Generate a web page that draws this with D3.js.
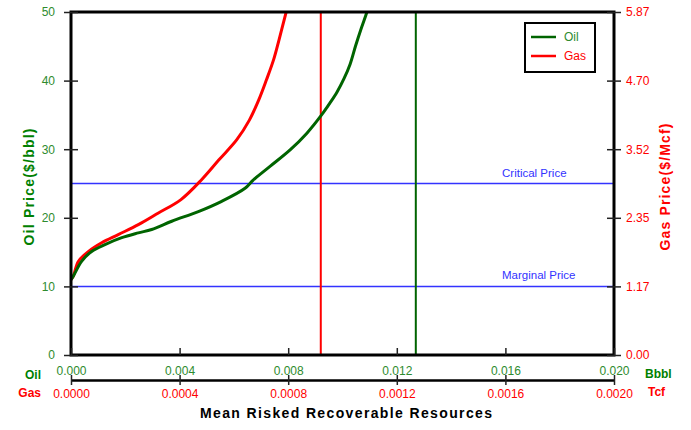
<!DOCTYPE html>
<html><head><meta charset="utf-8">
<script src="https://cdn.jsdelivr.net/npm/d3@7"></script>
<style>
body{margin:0;background:#fff;}
svg{display:block;font-family:"Liberation Sans",Arial,sans-serif;}
</style></head>
<body><svg id="c" width="691" height="430"></svg>
<script>
// ---- data ----
const oilX = [0,0.000085,0.00039,0.00076,0.00125,0.00187,0.00248,0.00297,0.00371,0.00469,0.00555,0.00641,0.00671,0.00733,0.00807,0.00868,0.00923,0.00954,0.00980,0.01005,0.01028,0.01048,0.01068,0.01090,0.01094];
const oilPrice = [11.0,11.5,13.65,15.1,16.1,17.1,17.8,18.3,19.5,20.9,22.4,24.3,25.5,27.5,29.9,32.3,35.0,36.75,38.35,40.25,42.4,45.05,47.5,50.0,50.6];
const gasX = [0,0.0000085,0.0000269,0.0000637,0.000113,0.000174,0.000248,0.000322,0.000405,0.000481,0.000545,0.000610,0.000657,0.000692,0.000720,0.000746,0.000766,0.000792,0.000796];
const gasPrice = [1.29,1.35,1.60,1.77,1.92,2.06,2.23,2.43,2.66,3.00,3.34,3.68,4.02,4.37,4.71,5.05,5.39,5.86,5.93];
const oilMeanRes = 0.0127;   // vertical oil line (Bbbl)
const gasMeanRes = 0.00092;  // vertical gas line (Tcf)
const criticalPrice = 25, marginalPrice = 10;
const oilPriceTicks = [0,10,20,30,40,50];
const gasPriceTicks = [0,1.174,2.348,3.522,4.696,5.87];
const oilResTicks = [0,0.004,0.008,0.012,0.016,0.020];
const gasResTicks = [0,0.0004,0.0008,0.0012,0.0016,0.0020];
const seriesNames = ["Oil","Gas"];

// ---- styles ----
const GREEN_LINE="#006400", GREEN_TXT="#2e8b2e", GREEN_B="#008000", RED="#ff0000", BLUE="#3333ff";
const L=71,R=614,T=12,B=355;

const svg=d3.select("#c");
const xOil=d3.scaleLinear().domain([0,0.02]).range([L,R]);
const xGas=d3.scaleLinear().domain([0,0.002]).range([L,R]);
const yOil=d3.scaleLinear().domain([0,50]).range([B,T]);
const yGas=d3.scaleLinear().domain([0,5.87]).range([B,T]);

svg.append("clipPath").attr("id","clip").append("rect").attr("x",L).attr("y",T).attr("width",R-L).attr("height",B-T);
const plot=svg.append("g").attr("clip-path","url(#clip)");

// horizontal price lines
[criticalPrice,marginalPrice].forEach(p=>{
  plot.append("line").attr("x1",L).attr("x2",R).attr("y1",yOil(p)).attr("y2",yOil(p)).attr("stroke",BLUE).attr("stroke-width",1.5);
});
// vertical lines
plot.append("line").attr("x1",xGas(gasMeanRes)).attr("x2",xGas(gasMeanRes)).attr("y1",T).attr("y2",B).attr("stroke",RED).attr("stroke-width",2);
plot.append("line").attr("x1",xOil(oilMeanRes)).attr("x2",xOil(oilMeanRes)).attr("y1",T).attr("y2",B).attr("stroke",GREEN_LINE).attr("stroke-width",2);

// curves
const oilData=oilX.map((x,i)=>[x,oilPrice[i]]);
const gasData=gasX.map((x,i)=>[x,gasPrice[i]]);
plot.append("path").datum(gasData).attr("fill","none").attr("stroke",RED).attr("stroke-width",3)
  .attr("d",d3.line().x(d=>xGas(d[0])).y(d=>yGas(d[1])).curve(d3.curveCatmullRom));
plot.append("path").datum(oilData).attr("fill","none").attr("stroke",GREEN_LINE).attr("stroke-width",3)
  .attr("d",d3.line().x(d=>xOil(d[0])).y(d=>yOil(d[1])).curve(d3.curveCatmullRom));

// price labels
plot.append("text").attr("x",502).attr("y",yOil(criticalPrice)-7).attr("fill",BLUE).attr("font-size",11.5).text("Critical Price");
plot.append("text").attr("x",502).attr("y",yOil(marginalPrice)-7).attr("fill",BLUE).attr("font-size",11.5).text("Marginal Price");

// frame
svg.append("rect").attr("x",L).attr("y",T).attr("width",R-L).attr("height",B-T).attr("fill","none").attr("stroke","#000").attr("stroke-width",3);

// left axis
const gl=svg.append("g").attr("transform",`translate(${L},0)`)
  .call(d3.axisLeft(yOil).tickValues(oilPriceTicks).tickSizeInner(7).tickSizeOuter(0).tickPadding(9));
gl.select(".domain").remove();
gl.selectAll("line").attr("x1",7).attr("stroke","#222").attr("stroke-width",1.5);
gl.selectAll("text").attr("fill",GREEN_TXT).attr("font-size",12).attr("font-family","Liberation Sans, Arial");

// right axis
const gr=svg.append("g").attr("transform",`translate(${R},0)`)
  .call(d3.axisRight(yGas).tickValues(gasPriceTicks).tickFormat(d3.format(".2f")).tickSizeInner(7).tickSizeOuter(0).tickPadding(5));
gr.select(".domain").remove();
gr.selectAll("line").attr("x1",-7).attr("stroke","#222").attr("stroke-width",1.5);
gr.selectAll("text").attr("fill",RED).attr("font-size",12).attr("font-family","Liberation Sans, Arial");

// bottom oil axis
const gb=svg.append("g").attr("transform",`translate(0,${B})`)
  .call(d3.axisBottom(xOil).tickValues(oilResTicks).tickFormat(d3.format(".3f")).tickSize(-7).tickPadding(11));
gb.select(".domain").remove();
gb.selectAll("line").attr("stroke","#222").attr("stroke-width",1.5);
gb.selectAll("text").attr("fill",GREEN_TXT).attr("font-size",12).attr("font-family","Liberation Sans, Arial");

// bottom gas axis
const gg=svg.append("g").attr("transform",`translate(0,380)`)
  .call(d3.axisBottom(xGas).tickValues(gasResTicks).tickFormat(d3.format(".4f")).tickSizeInner(5).tickSizeOuter(0).tickPadding(4.5));
gg.select(".domain").attr("stroke","#000").attr("stroke-width",2.5);
gg.selectAll("line").attr("y1",-5).attr("stroke","#222").attr("stroke-width",1.5);
gg.selectAll("text").attr("fill",RED).attr("font-size",12).attr("font-family","Liberation Sans, Arial");

// unit labels
svg.append("text").attr("x",41).attr("y",379).attr("text-anchor","end").attr("fill",GREEN_B).attr("font-weight","bold").attr("font-size",12).text("Oil");
svg.append("text").attr("x",41).attr("y",397).attr("text-anchor","end").attr("fill",RED).attr("font-weight","bold").attr("font-size",12).text("Gas");
svg.append("text").attr("x",645).attr("y",378).attr("fill",GREEN_B).attr("font-weight","bold").attr("font-size",12).text("Bbbl");
svg.append("text").attr("x",648).attr("y",396).attr("fill",RED).attr("font-weight","bold").attr("font-size",12).text("Tcf");

// titles
svg.append("text").attr("x",346).attr("y",418).attr("text-anchor","middle").attr("font-weight","bold").attr("font-size",14)
  .attr("textLength",292).attr("lengthAdjust","spacing").attr("fill","#000").text("Mean Risked Recoverable Resources");
svg.append("text").attr("transform","translate(34,187) rotate(-90)").attr("text-anchor","middle").attr("font-weight","bold").attr("font-size",14)
  .attr("fill",GREEN_B).attr("textLength",117).attr("lengthAdjust","spacing").text("Oil Price($/bbl)");
svg.append("text").attr("transform","translate(670,187) rotate(-90)").attr("text-anchor","middle").attr("font-weight","bold").attr("font-size",14)
  .attr("fill",RED).attr("textLength",127).attr("lengthAdjust","spacing").text("Gas Price($/Mcf)");

// legend
const lg=svg.append("g");
lg.append("rect").attr("x",525).attr("y",23).attr("width",70).attr("height",49).attr("fill","#fff").attr("stroke","#000").attr("stroke-width",2);
const legColors=[GREEN_LINE,RED];
seriesNames.forEach((n,i)=>{
  const yy=37+i*19;
  lg.append("line").attr("x1",531).attr("x2",556).attr("y1",yy).attr("y2",yy).attr("stroke",legColors[i]).attr("stroke-width",2.5);
  lg.append("text").attr("x",564).attr("y",yy+4).attr("font-size",12).attr("fill",i===0?GREEN_TXT:RED).text(n);
});
</script></body></html>
